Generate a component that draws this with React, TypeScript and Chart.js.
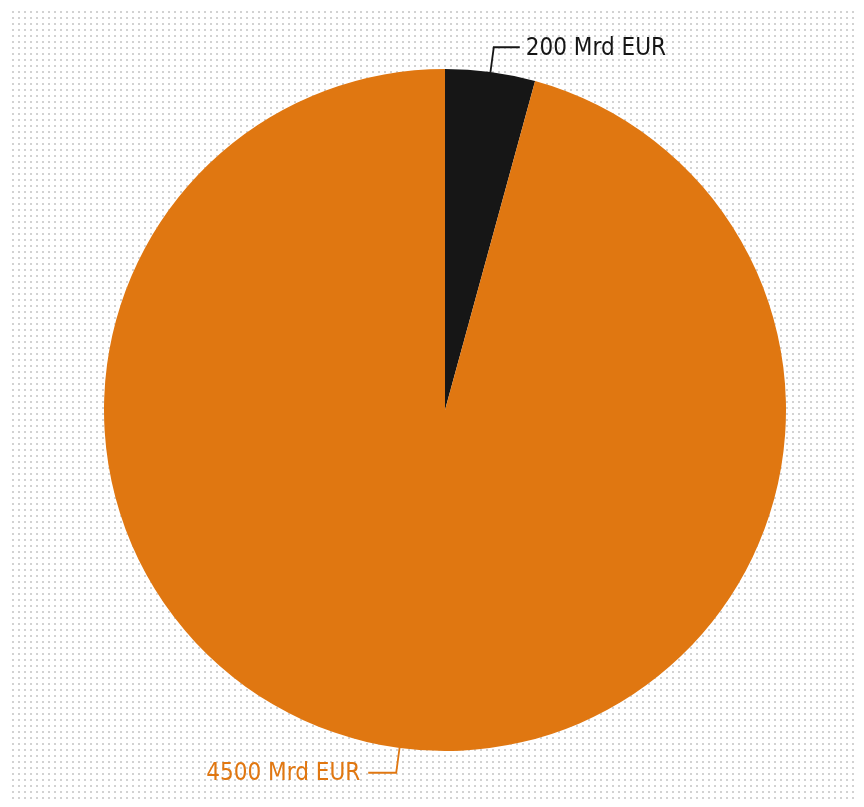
import React, { useEffect, useRef } from "react";
import { Chart, registerables } from "chart.js";

Chart.register(...registerables);

const categories: string[] = ["Schwarz", "Orange"];
const values: number[] = [200, 4500];
const labelTexts: string[] = ["200 Mrd EUR", "4500 Mrd EUR"];
const sliceColors: string[] = ["#161616", "#E07711"];
const labelColors: string[] = ["#161616", "#E07711"];

const FONT = "'Liberation Sans Narrow', 'DejaVu Sans Condensed', 'Roboto Condensed', sans-serif";

const leaderPlugin = {
  id: "leaderLabels",
  afterDatasetsDraw(chart: any) {
    const ctx = chart.ctx as CanvasRenderingContext2D;
    const meta = chart.getDatasetMeta(0);
    ctx.save();
    meta.data.forEach((arc: any, i: number) => {
      const { x, y, startAngle, endAngle, outerRadius } = arc.getProps(
        ["x", "y", "startAngle", "endAngle", "outerRadius"],
        true
      );
      const mid = (startAngle + endAngle) / 2;
      const cos = Math.cos(mid);
      const sin = Math.sin(mid);
      const x0 = x + cos * outerRadius;
      const y0 = y + sin * outerRadius;
      const x1 = x + cos * (outerRadius + 25);
      const y1 = y + sin * (outerRadius + 25);
      const right = cos >= 0;
      const x2 = x1 + (right ? 26 : -28);
      ctx.strokeStyle = labelColors[i];
      ctx.lineWidth = 1.8;
      ctx.beginPath();
      ctx.moveTo(x0, y0);
      ctx.lineTo(x1, y1);
      ctx.lineTo(x2, y1);
      ctx.stroke();
      ctx.fillStyle = labelColors[i];
      ctx.font = `24px ${FONT}`;
      ctx.textBaseline = "middle";
      ctx.textAlign = right ? "left" : "right";
      ctx.fillText(labelTexts[i], x2 + (right ? 6 : -8), y1 + 1);
    });
    ctx.restore();
  },
};

export default function App() {
  const canvasRef = useRef<HTMLCanvasElement | null>(null);

  useEffect(() => {
    if (!canvasRef.current) return;
    const chart = new Chart(canvasRef.current, {
      type: "pie",
      data: {
        labels: categories,
        datasets: [
          {
            data: values,
            backgroundColor: sliceColors,
            borderWidth: 0,
          },
        ],
      },
      options: {
        animation: false,
        responsive: false,
        maintainAspectRatio: false,
        layout: { padding: { left: 96, top: 61, right: 70, bottom: 48 } },
        plugins: {
          legend: { display: false },
          tooltip: { enabled: false },
        },
      },
      plugins: [leaderPlugin],
    });
    return () => chart.destroy();
  }, []);

  return (
    <div
      style={{
        width: 848,
        height: 791,
        position: "relative",
        backgroundColor: "#ffffff",
        backgroundImage: "radial-gradient(circle, #d2d2d2 1.1px, transparent 1.4px)",
        backgroundSize: "6px 6px",
        backgroundPosition: "2px 1px",
      }}
    >
      <canvas ref={canvasRef} width={848} height={791} style={{ display: "block" }} />
    </div>
  );
}
